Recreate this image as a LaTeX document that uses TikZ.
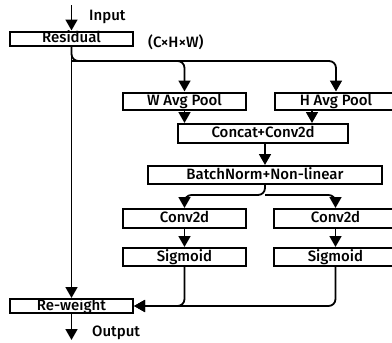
\documentclass[tikz,border=0pt]{standalone}
\usepackage{fontspec}
\setmainfont{Fira Sans Medium}
\usetikzlibrary{arrows.meta}

\tikzset{
    blk/.style={draw, line width=2pt, inner sep=0pt, minimum width=123pt,
        font=\fontsize{15}{15}\selectfont, text height=10.6pt, text depth=2pt},
    arr/.style={-{Triangle[width=12pt,length=11pt]}, line width=1.8pt},
    lbl/.style={anchor=west, inner sep=0pt, font=\fontsize{15}{15}\selectfont}
}

\begin{document}
\begin{tikzpicture}[x=1pt, y=-1pt]

    \useasboundingbox (0,0) rectangle (392,343);
    \clip (0,0) rectangle (392,343);

    % blocks
    \node[blk, minimum height=14pt] (res) at (71.5,38.5) {Residual};
    \node[blk, minimum height=17pt] (wpool) at (184.5,101) {W Avg Pool};
    \node[blk, minimum height=17pt] (hpool) at (336,101) {H Avg Pool};
    \node[blk, minimum height=19pt, minimum width=170pt] (cat) at (263,133.5) {Concat+Conv2d};
    \node[blk, minimum height=18pt, minimum width=234pt] (bn) at (265,175) {BatchNorm+Non-linear};
    \node[blk, minimum height=19pt] (convw) at (184.5,218.5) {Conv2d};
    \node[blk, minimum height=19pt] (convh) at (335.5,218.5) {Conv2d};
    \node[blk, minimum height=18pt] (sigw) at (184.5,257) {Sigmoid};
    \node[blk, minimum height=18pt] (sigh) at (335.5,257) {Sigmoid};
    \node[blk, minimum height=14pt] (rew) at (71.5,306) {Re-weight};

    % labels
    \node[lbl] (in) at (89,17) {Input};
    \node[lbl] (dim) at (148,42) {(C×H×W)};
    \node[lbl] (out) at (92,333) {Output};

    \coordinate (src) at (71.5,5);
    \coordinate (dst) at (71.5,340);
    \coordinate (split) at (71.5,61);
    \coordinate (fork) at (265,195);

    % input / output
    \draw[arr] (src) -- (res.north);
    \draw[arr] (res.south) -- (rew.north);
    \draw[arr] (rew.south) -- (dst);

    % pooling
    \draw[arr, rounded corners=7pt] (res.south) -- (split) -| (wpool.north);
    \draw[arr, rounded corners=7pt] (split) -| (hpool.north);
    \draw[arr] (wpool.south) -- (wpool.south |- cat.north);
    \draw[arr] ([xshift=-24pt]hpool.south) -- ([xshift=-24pt]hpool.south |- cat.north);
    \draw[arr] (cat.south -| bn.south) -- (bn.north);

    % attention branches
    \draw[arr, rounded corners=7pt] (bn.south) -- (fork) -| (convw.north);
    \draw[arr, rounded corners=7pt] (fork) -| (convh.north);
    \draw[arr] (convw.south) -- (sigw.north);
    \draw[arr] (convh.south) -- (sigh.north);
    \draw[arr, rounded corners=7pt] (sigw.south) |- (rew.east);
    \draw[arr, rounded corners=7pt] (sigh.south) |- (rew.east);

\end{tikzpicture}
\end{document}
